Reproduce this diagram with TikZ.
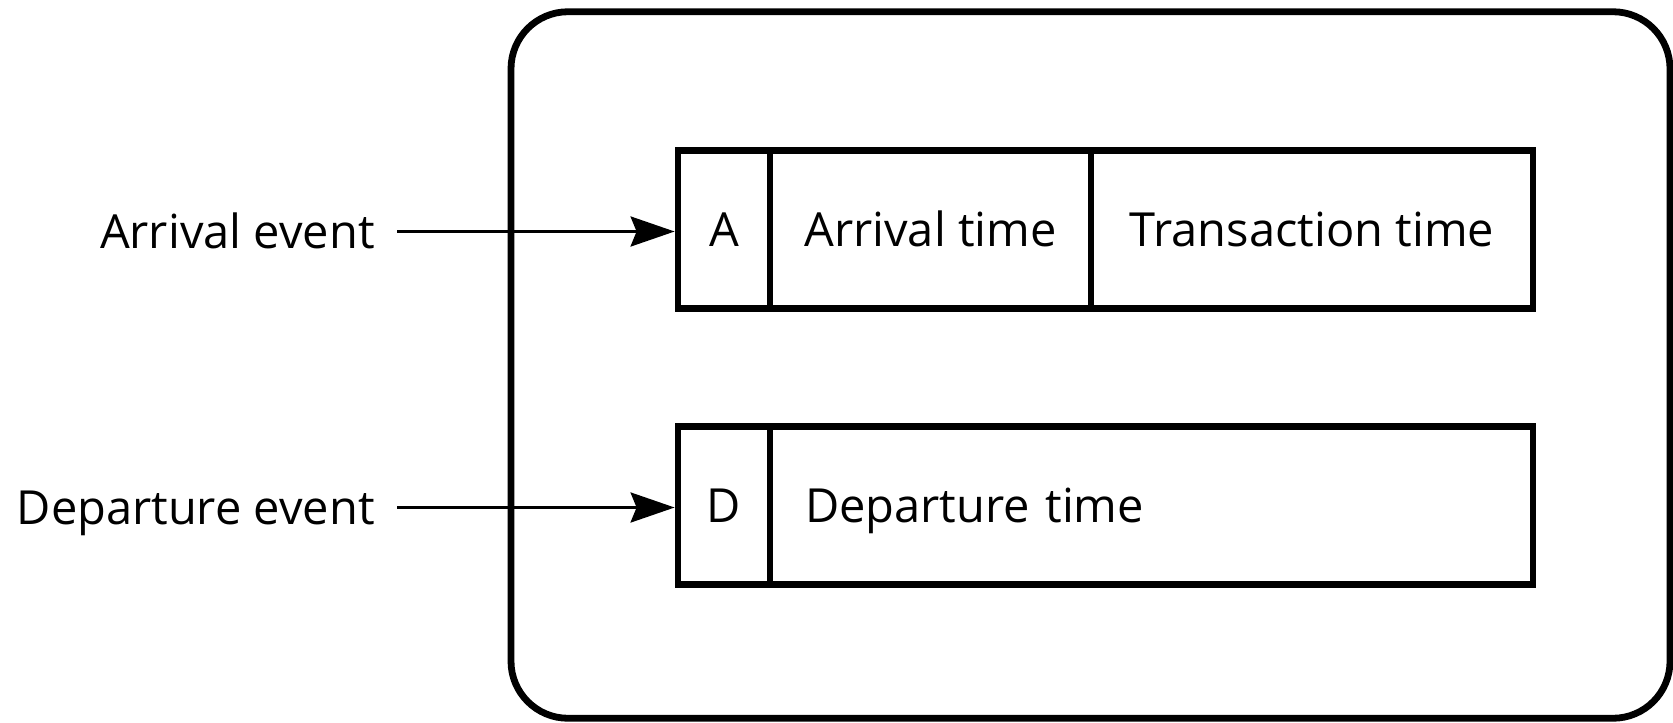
\documentclass[tikz,border=0pt]{standalone}
\usepackage{fontspec}
\setmainfont{Open Sans}
\usetikzlibrary{arrows.meta}

\begin{document}
\begin{tikzpicture}[x=0.5pt, y=-0.5pt,
  every node/.style={font=\fontsize{23.5pt}{28pt}\selectfont},
  frame/.style={draw, line width=3.4pt, rounded corners=28.5pt, inner sep=0pt},
  cell/.style={draw, line width=3.4pt, inner sep=0pt, minimum height=78.75pt,
               text height=16.8pt, text depth=0pt},
  lbl/.style={inner sep=0pt, inner xsep=11pt, text height=16.8pt, text depth=0pt},
  feed/.style={line width=1.6pt, -{Stealth[length=22pt, width=15pt, inset=3pt]}}
]
\useasboundingbox (0,0) rectangle (1673,722);

% outer record container
\node[frame, minimum width=579.5pt, minimum height=353.25pt] (box) at (1090.5,365) {};

% arrival record
\node[cell, minimum width=46pt]    (ca) at (724,229.5)    {A};
\node[cell, minimum width=160.5pt] (cat) at (930.5,229.5) {Arrival time};
\node[cell, minimum width=221pt]   (ctt) at (1312,229.5)  {Transaction time};

% departure record
\node[cell, minimum width=46pt] (cd) at (724,505.5) {D};
\node[cell, minimum width=381.5pt, text width=346.5pt, inner xsep=17.5pt, align=left]
      (cdt) at (1151.5,505.5) {Departure time};

% event labels and their arrows
\coordinate (lblx) at (397,0);
\node[lbl, anchor=east] (ea) at ([yshift=-1pt]ca.west -| lblx) {Arrival event};
\node[lbl, anchor=east] (ed) at ([yshift=-1pt]cd.west -| lblx) {Departure event};

\draw[feed] (ea.east) -- (ea.east -| ca.west);
\draw[feed] (ed.east) -- (ed.east -| cd.west);
\end{tikzpicture}
\end{document}
